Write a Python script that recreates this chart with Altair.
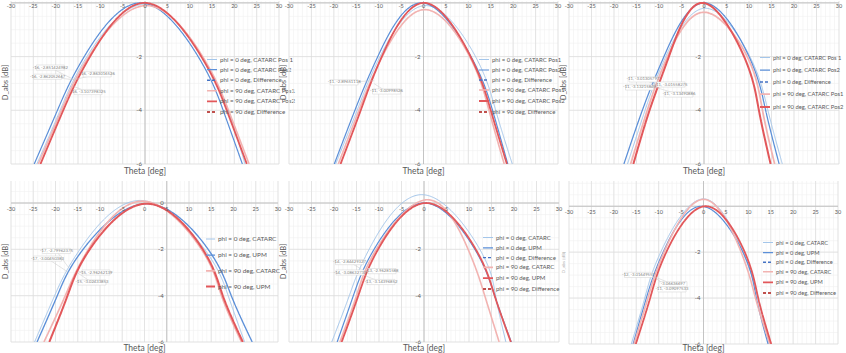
import altair as alt
import pandas as pd

FONT = "Lato"
TXT = "#595959"

THETA_TICKS = [-30, -25, -20, -15, -10, -5, 0, 5, 10, 15, 20, 25, 30]
THETA_MINOR = list(range(-30, 31))
DB_MAJOR = [0, -2, -4, -6]
DB_MINOR = [1.0, 0.5, 0.0, -0.5, -1.0, -1.5, -2.0, -2.5, -3.0, -3.5, -4.0, -4.5, -5.0, -5.5, -6.0]

ROLE_COLOR = {"light0": "#a4c6ea", "thick0": "#5b8fd8", "diff0": "#4472c4",
              "light90": "#f2b3b1", "thick90": "#e2575a", "diff90": "#c0504d"}
ROLE_DASH = {"light0": [1, 0], "thick0": [1, 0], "diff0": [3, 2],
             "light90": [1, 0], "thick90": [1, 0], "diff90": [3, 2]}
ROLE_WIDTH = {"light0": 1.0, "thick0": 2.0, "diff0": 1.4,
              "light90": 1.0, "thick90": 2.0, "diff90": 1.4}

# ---------------- Panel 1 ----------------
P1_NAMES = ["phi = 0 deg, CATARC Pos 1", "phi = 0 deg, CATARC Pos2", "phi = 0 deg, Difference",
            "phi = 90 deg, CATARC Pos1", "phi = 90 deg, CATARC Pos2", "phi = 90 deg, Difference"]
P1_ROLES = ["light0", "thick0", "diff0", "light90", "thick90", "diff90"]
P1_THETA = {
    "phi = 0 deg, CATARC Pos 1": [-24.2, -19.0, -13.0, 0.0, 12.8, 18.6, 22.4],
    "phi = 0 deg, CATARC Pos2": [-24.8, -19.6, -13.6, -1.0, 11.9, 17.5, 21.8],
    "phi = 90 deg, CATARC Pos1": [-23.9, -18.7, -12.6, 0.3, 12.9, 18.7, 23.3],
    "phi = 90 deg, CATARC Pos2": [-23.4, -18.3, -12.3, -0.1, 12.6, 18.3, 22.8],
}
P1_DB = {
    "phi = 0 deg, CATARC Pos 1": [-6, -4, -2, -0.05, -2, -4, -6],
    "phi = 0 deg, CATARC Pos2": [-6, -4, -2, 0.0, -2, -4, -6],
    "phi = 90 deg, CATARC Pos1": [-6, -4, -2, -0.1, -2, -4, -6],
    "phi = 90 deg, CATARC Pos2": [-6, -4, -2, 0.0, -2, -4, -6],
}
P1_ANN_T = [-16, -16, -16, -16]
P1_ANN_D = [-2.851, -2.862, -2.863, -3.107]
P1_ANN_LT = [-21.2, -21.8, -10.7, -12.75]
P1_ANN_LD = [-2.41, -2.75, -2.66, -3.32]
P1_ANN_TXT = ["-16, -2.851424982", "-16, -2.862052667", "-16, -2.863016526", "-16, -3.107398325"]

# ---------------- Panel 2 ----------------
P2_NAMES = ["phi = 0 deg, CATARC Pos1", "phi = 0 deg, CATARC Pos2", "phi = 0 deg, Difference",
            "phi = 90 deg, CATARC Pos1", "phi = 90 deg, CATARC Pos2", "phi = 90 deg, Difference"]
P2_ROLES = ["light0", "thick0", "diff0", "light90", "thick90", "diff90"]
P2_THETA = {
    "phi = 0 deg, CATARC Pos1": [-19.6, -14.8, -9.7, 0.5, 11.6, 16.1, 19.8],
    "phi = 0 deg, CATARC Pos2": [-19.9, -15.3, -10.2, -0.5, 10.6, 15.4, 18.8],
    "phi = 90 deg, CATARC Pos1": [-19.0, -14.4, -9.2, 0.3, 10.3, 14.6, 18.0],
    "phi = 90 deg, CATARC Pos2": [-18.5, -14.0, -9.3, 0.1, 10.5, 15.0, 18.6],
}
P2_DB = {
    "phi = 0 deg, CATARC Pos1": [-6, -4, -2, -0.1, -2, -4, -6],
    "phi = 0 deg, CATARC Pos2": [-6, -4, -2, 0.0, -2, -4, -6],
    "phi = 90 deg, CATARC Pos1": [-6, -4, -2, -0.25, -2, -4, -6],
    "phi = 90 deg, CATARC Pos2": [-6, -4, -2, 0.0, -2, -4, -6],
}
P2_ANN_T = [-11, -11]
P2_ANN_D = [-2.897, -3.010]
P2_ANN_LT = [-17.7, -8.25]
P2_ANN_LD = [-2.96, -3.30]
P2_ANN_TXT = ["-11, -2.89651118", "-11, -3.00998526"]

# ---------------- Panel 3 ----------------
P3_NAMES = ["phi = 0 deg, CATARC Pos 1", "phi = 0 deg, CATARC Pos2", "phi = 0 deg, Difference",
            "phi = 90 deg, CATARC Pos1", "phi = 90 deg, CATARC Pos2"]
P3_ROLES = ["light0", "thick0", "diff0", "light90", "thick90"]
P3_THETA = {
    "phi = 0 deg, CATARC Pos 1": [-17.0, -13.1, -8.5, 0.3, 10.2, 14.2, 17.4],
    "phi = 0 deg, CATARC Pos2": [-17.8, -13.7, -8.9, 0.0, 10.0, 13.7, 16.7],
    "phi = 90 deg, CATARC Pos1": [-16.3, -12.6, -8.1, 0.0, 9.6, 13.0, 15.7],
    "phi = 90 deg, CATARC Pos2": [-15.7, -12.1, -7.8, -0.4, 8.9, 12.2, 14.8],
}
P3_DB = {
    "phi = 0 deg, CATARC Pos 1": [-6, -4, -2, -0.2, -2, -4, -6],
    "phi = 0 deg, CATARC Pos2": [-6, -4, -2, 0.0, -2, -4, -6],
    "phi = 90 deg, CATARC Pos1": [-6, -4, -2, -0.35, -2, -4, -6],
    "phi = 90 deg, CATARC Pos2": [-6, -4, -2, 0.0, -2, -4, -6],
}
P3_ANN_T = [-11, -11, -11, -11]
P3_ANN_D = [-3.013, -3.132, -3.016, -3.135]
P3_ANN_LT = [-13.56, -14.33, -7.33, -5.56]
P3_ANN_LD = [-2.85, -3.15, -3.04, -3.41]
P3_ANN_TXT = ["-11, -3.01305797", "-11, -3.13215849", "-11, -3.01558275", "-11, -3.13490886"]

# ---------------- Panel 4 ----------------
P4_NAMES = ["phi = 0 deg, CATARC", "phi = 0 deg, UPM", "phi = 90 deg, CATARC", "phi = 90 deg, UPM"]
P4_ROLES = ["light0", "thick0", "light90", "thick90"]
P4_THETA = {
    "phi = 0 deg, CATARC": [-24.7, -20.2, -14.5, -1.0, 13.5, 18.8, 22.5],
    "phi = 0 deg, UPM": [-24.15, -19.6, -13.8, 0.5, 14.3, 19.5, 24.2],
    "phi = 90 deg, CATARC": [-22.6, -17.8, -12.6, -0.5, 12.8, 17.3, 21.8],
    "phi = 90 deg, UPM": [-21.4, -17.3, -12.3, 0.5, 13.1, 17.6, 22.1],
}
P4_DB = {
    "phi = 0 deg, CATARC": [-6, -4, -2, 0.11, -2, -4, -6],
    "phi = 0 deg, UPM": [-6, -4, -2, -0.03, -2, -4, -6],
    "phi = 90 deg, CATARC": [-6, -4, -2, 0.08, -2, -4, -6],
    "phi = 90 deg, UPM": [-6, -4, -2, -0.03, -2, -4, -6],
}
P4_ANN_T = [-17, -17, -15, -15]
P4_ANN_D = [-2.800, -3.005, -2.963, -3.024]
P4_ANN_LT = [-19.8, -21.8, -10.9, -11.8]
P4_ANN_LD = [-2.07, -2.40, -3.00, -3.43]
P4_ANN_TXT = ["-17, -2.79962375", "-17, -3.00450383", "-15, -2.96262139", "-15, -3.02433853"]

# ---------------- Panel 5 ----------------
P5_NAMES = ["phi = 0 deg, CATARC", "phi = 0 deg, UPM", "phi = 0 deg, Difference",
            "phi = 90 deg, CATARC", "phi = 90 deg, UPM", "phi = 90 deg, Difference"]
P5_ROLES = ["light0", "thick0", "diff0", "light90", "thick90", "diff90"]
P5_THETA = {
    "phi = 0 deg, CATARC": [-20.5, -16.6, -12.2, -0.5, 12.4, 15.9, 18.2],
    "phi = 0 deg, UPM": [-19.3, -15.7, -11.1, 0.0, 11.3, 15.7, 19.4],
    "phi = 90 deg, CATARC": [-18.7, -15.0, -10.6, 0.8, 9.8, 13.5, 16.7],
    "phi = 90 deg, UPM": [-18.3, -14.6, -10.2, 0.5, 11.5, 15.7, 19.3],
}
P5_DB = {
    "phi = 0 deg, CATARC": [-6, -4, -2, 0.36, -2, -4, -6],
    "phi = 0 deg, UPM": [-6, -4, -2, 0.0, -2, -4, -6],
    "phi = 90 deg, CATARC": [-6, -4, -2, 0.14, -2, -4, -6],
    "phi = 90 deg, UPM": [-6, -4, -2, 0.0, -2, -4, -6],
}
P5_ANN_T = [-14, -14, -13, -13]
P5_ANN_D = [-2.844, -3.086, -2.963, -3.144]
P5_ANN_LT = [-16.56, -16.44, -9.33, -9.56]
P5_ANN_LD = [-2.55, -3.00, -2.94, -3.41]
P5_ANN_TXT = ["-14, -2.84429327", "-14, -3.08632733", "-13, -2.96281588", "-13, -3.14396852"]

# ---------------- Panel 6 ----------------
P6_NAMES = ["phi = 0 deg, CATARC", "phi = 0 deg, UPM", "phi = 0 deg, Difference",
            "phi = 90 deg, CATARC", "phi = 90 deg, UPM", "phi = 90 deg, Difference"]
P6_ROLES = ["light0", "thick0", "diff0", "light90", "thick90", "diff90"]
P6_THETA = {
    "phi = 0 deg, CATARC": [-16.1, -13.1, -9.55, 0.0, 8.8, 12.2, 14.6],
    "phi = 0 deg, UPM": [-15.7, -12.75, -9.0, -0.5, 8.8, 11.8, 14.4],
    "phi = 90 deg, CATARC": [-15.5, -12.4, -8.8, 0.0, 8.4, 11.6, 14.8],
    "phi = 90 deg, UPM": [-15.1, -11.9, -8.3, 0.5, 9.2, 12.2, 15.1],
}
P6_DB = {
    "phi = 0 deg, CATARC": [-6, -4, -2, 0.32, -2, -4, -6],
    "phi = 0 deg, UPM": [-6, -4, -2, 0.0, -2, -4, -6],
    "phi = 90 deg, CATARC": [-6, -4, -2, 0.30, -2, -4, -6],
    "phi = 90 deg, UPM": [-6, -4, -2, 0.0, -2, -4, -6],
}
P6_ANN_T = [-12, -11, -11]
P6_ANN_D = [-3.016, -3.066, -3.091]
P6_ANN_LT = [-14.5, -6.8, -7.03]
P6_ANN_LD = [-2.99, -3.40, -3.62]
P6_ANN_TXT = ["-12, -3.01649557", "-3.06636697", "-11, -3.09097533"]


def panel(names, roles, theta, db, ann, width, height, ydom, vaxis, ylabels,
          xlab_dy, leg_x, leg_y, leg_pad, leg_size, sym_size=100, ytitle_style=None,
          title_off=7, anchor=False):
    xsc = alt.Scale(domain=[-30, 30], nice=False, zero=False)
    ysc = alt.Scale(domain=ydom, nice=False, zero=False)

    def X(f):
        return alt.X(f, type="quantitative", scale=xsc, axis=None)

    def Y(f):
        return alt.Y(f, type="quantitative", scale=ysc, axis=None)

    layers = []
    # grid
    layers.append(alt.Chart(pd.DataFrame({"v": THETA_MINOR})).mark_rule(
        color="#f0f0f0", strokeWidth=0.6).encode(x=X("v")))
    ymin = [v for v in DB_MINOR if ydom[0] <= v <= ydom[1]]
    layers.append(alt.Chart(pd.DataFrame({"v": ymin})).mark_rule(
        color="#f0f0f0", strokeWidth=0.6).encode(y=Y("v")))
    layers.append(alt.Chart(pd.DataFrame({"v": THETA_TICKS})).mark_rule(
        color="#dcdcdc", strokeWidth=0.7).encode(x=X("v")))
    layers.append(alt.Chart(pd.DataFrame({"v": DB_MAJOR})).mark_rule(
        color="#dcdcdc", strokeWidth=0.7).encode(y=Y("v")))
    # axis lines
    layers.append(alt.Chart(pd.DataFrame({"v": [0.0]})).mark_rule(
        color="#bfbfbf", strokeWidth=0.9).encode(y=Y("v")))
    layers.append(alt.Chart(pd.DataFrame({"v": [vaxis]})).mark_rule(
        color="#bfbfbf", strokeWidth=0.9).encode(x=X("v")))

    # curves
    rows = []
    for n in names:
        if n in theta:
            for t, d in zip(theta[n], db[n]):
                rows.append({"series": n, "theta": t, "db": d})
    df = pd.DataFrame(rows)
    leg = alt.Legend(orient="none", legendX=leg_x, legendY=leg_y, title=None,
                     symbolType="stroke", symbolSize=sym_size, labelFont=FONT,
                     labelFontSize=leg_size, labelColor=TXT, rowPadding=leg_pad,
                     labelOffset=2, padding=0, labelLimit=200)
    colors = [ROLE_COLOR[r] for r in roles]
    dashes = [ROLE_DASH[r] for r in roles]
    widths = [ROLE_WIDTH[r] for r in roles]
    layers.append(alt.Chart(df).mark_line(clip=True, interpolate="natural").encode(
        x=X("theta"), y=Y("db"),
        color=alt.Color("series:N", scale=alt.Scale(domain=names, range=colors), legend=leg),
        strokeDash=alt.StrokeDash("series:N", scale=alt.Scale(domain=names, range=dashes), legend=leg),
        strokeWidth=alt.StrokeWidth("series:N", scale=alt.Scale(domain=names, range=widths), legend=leg),
    ))

    # annotations
    at, ad, alt_, ald, atxt = ann
    a = pd.DataFrame({"pt": at, "pdb": ad, "lt": alt_, "ld": ald, "txt": atxt})
    hw = 14 * 60.0 / width
    hh = 2.6 * (ydom[1] - ydom[0]) / height
    a["x1"] = a["lt"] - hw
    a["x2"] = a["lt"] + hw
    a["y1"] = a["ld"] - hh
    a["y2"] = a["ld"] + hh
    layers.append(alt.Chart(a).mark_rule(color="#c8c8c8", strokeWidth=0.5).encode(
        x=X("pt"), y=Y("pdb"), x2="lt", y2="ld"))
    layers.append(alt.Chart(a).mark_rect(fill="white", stroke="#d0d0d0", strokeWidth=0.5).encode(
        x=X("x1"), x2="x2", y=Y("y1"), y2="y2"))
    layers.append(alt.Chart(a).mark_text(fontSize=4.2, color="#7f7f7f", font=FONT).encode(
        x=X("lt"), y=Y("ld"), text="txt:N"))

    # tick labels
    xl = pd.DataFrame({"v": THETA_TICKS, "z": [0.0] * len(THETA_TICKS),
                       "t": [str(v) for v in THETA_TICKS]})
    layers.append(alt.Chart(xl).mark_text(fontSize=5.5, color=TXT, font=FONT, dy=xlab_dy,
                                          baseline="middle").encode(
        x=X("v"), y=Y("z"), text="t:N"))
    yl = pd.DataFrame({"v": ylabels, "x": [vaxis] * len(ylabels),
                       "t": [str(v) for v in ylabels]})
    layers.append(alt.Chart(yl).mark_text(fontSize=6, color=TXT, font=FONT, dx=-3,
                                          align="right", baseline="middle").encode(
        x=X("x"), y=Y("v"), text="t:N"))

    # titles
    layers.append(alt.Chart(pd.DataFrame({"t": ["Theta [deg]"]})).mark_text(
        fontSize=8.5, color=TXT, font=FONT, baseline="middle").encode(
        x=alt.value(width / 2), y=alt.value(height + title_off), text="t:N"))
    ts = ytitle_style or {"fontSize": 7.5, "color": TXT}
    layers.append(alt.Chart(pd.DataFrame({"t": ["D_abs [dB]"]})).mark_text(
        font=FONT, angle=270, baseline="middle", **ts).encode(
        x=alt.value(-5), y=alt.value(height / 2), text="t:N"))

    if anchor:
        layers.append(alt.Chart(pd.DataFrame({"t": [0]})).mark_rule(
            color="white", strokeWidth=0.5).encode(
            x=alt.value(-10), x2=alt.value(-9), y=alt.value(0.3)))

    return alt.layer(*layers).properties(width=width, height=height)


TOP_DOM = [-6, 0.07]
p1 = panel(P1_NAMES, P1_ROLES, P1_THETA, P1_DB,
           (P1_ANN_T, P1_ANN_D, P1_ANN_LT, P1_ANN_LD, P1_ANN_TXT),
           268, 163, TOP_DOM, 0, [-2, -4, -6], 3.5, 195, 53, 0.6, 6.2, anchor=True)
p2 = panel(P2_NAMES, P2_ROLES, P2_THETA, P2_DB,
           (P2_ANN_T, P2_ANN_D, P2_ANN_LT, P2_ANN_LD, P2_ANN_TXT),
           269, 163, TOP_DOM, 0, [-2, -4, -6], 3.5, 189, 53, 1.0, 6.0)
p3 = panel(P3_NAMES, P3_ROLES, P3_THETA, P3_DB,
           (P3_ANN_T, P3_ANN_D, P3_ANN_LT, P3_ANN_LD, P3_ANN_TXT),
           270, 163, TOP_DOM, 0, [-2, -4, -6], 3.5, 190, 51, 3.0, 5.8)
p4 = panel(P4_NAMES, P4_ROLES, P4_THETA, P4_DB,
           (P4_ANN_T, P4_ANN_D, P4_ANN_LT, P4_ANN_LD, P4_ANN_TXT),
           267, 161, [-6, 0.95], 5, [0, -2, -4, -6], 6, 194, 53, 6.7, 6.4, sym_size=81,
           title_off=5.5)
p5 = panel(P5_NAMES, P5_ROLES, P5_THETA, P5_DB,
           (P5_ANN_T, P5_ANN_D, P5_ANN_LT, P5_ANN_LD, P5_ANN_TXT),
           270, 161, [-6, 0.95], 0, [-2, -4, -6], 6, 193, 51, 0.8, 6.0, title_off=5.5)
p6 = panel(P6_NAMES, P6_ROLES, P6_THETA, P6_DB,
           (P6_ANN_T, P6_ANN_D, P6_ANN_LT, P6_ANN_LD, P6_ANN_TXT),
           269, 163, [-6, 1.1], 0, [-2, -4, -6], 6, 193, 56, 0.6, 5.7,
           ytitle_style={"fontSize": 4.5, "color": "#a6a6a6"}, title_off=4)

RES = dict(color="independent", strokeDash="independent", strokeWidth="independent")
chart = alt.concat(p1, p2, p3, p4, p5, p6, columns=3,
                   spacing={"row": 17, "column": 10}, bounds="flush",
                   align="none").resolve_scale(**RES).properties(
    padding=0, background="white").configure_view(strokeWidth=0)

chart.save("out.html", embed_options={"renderer": "svg", "actions": False})
